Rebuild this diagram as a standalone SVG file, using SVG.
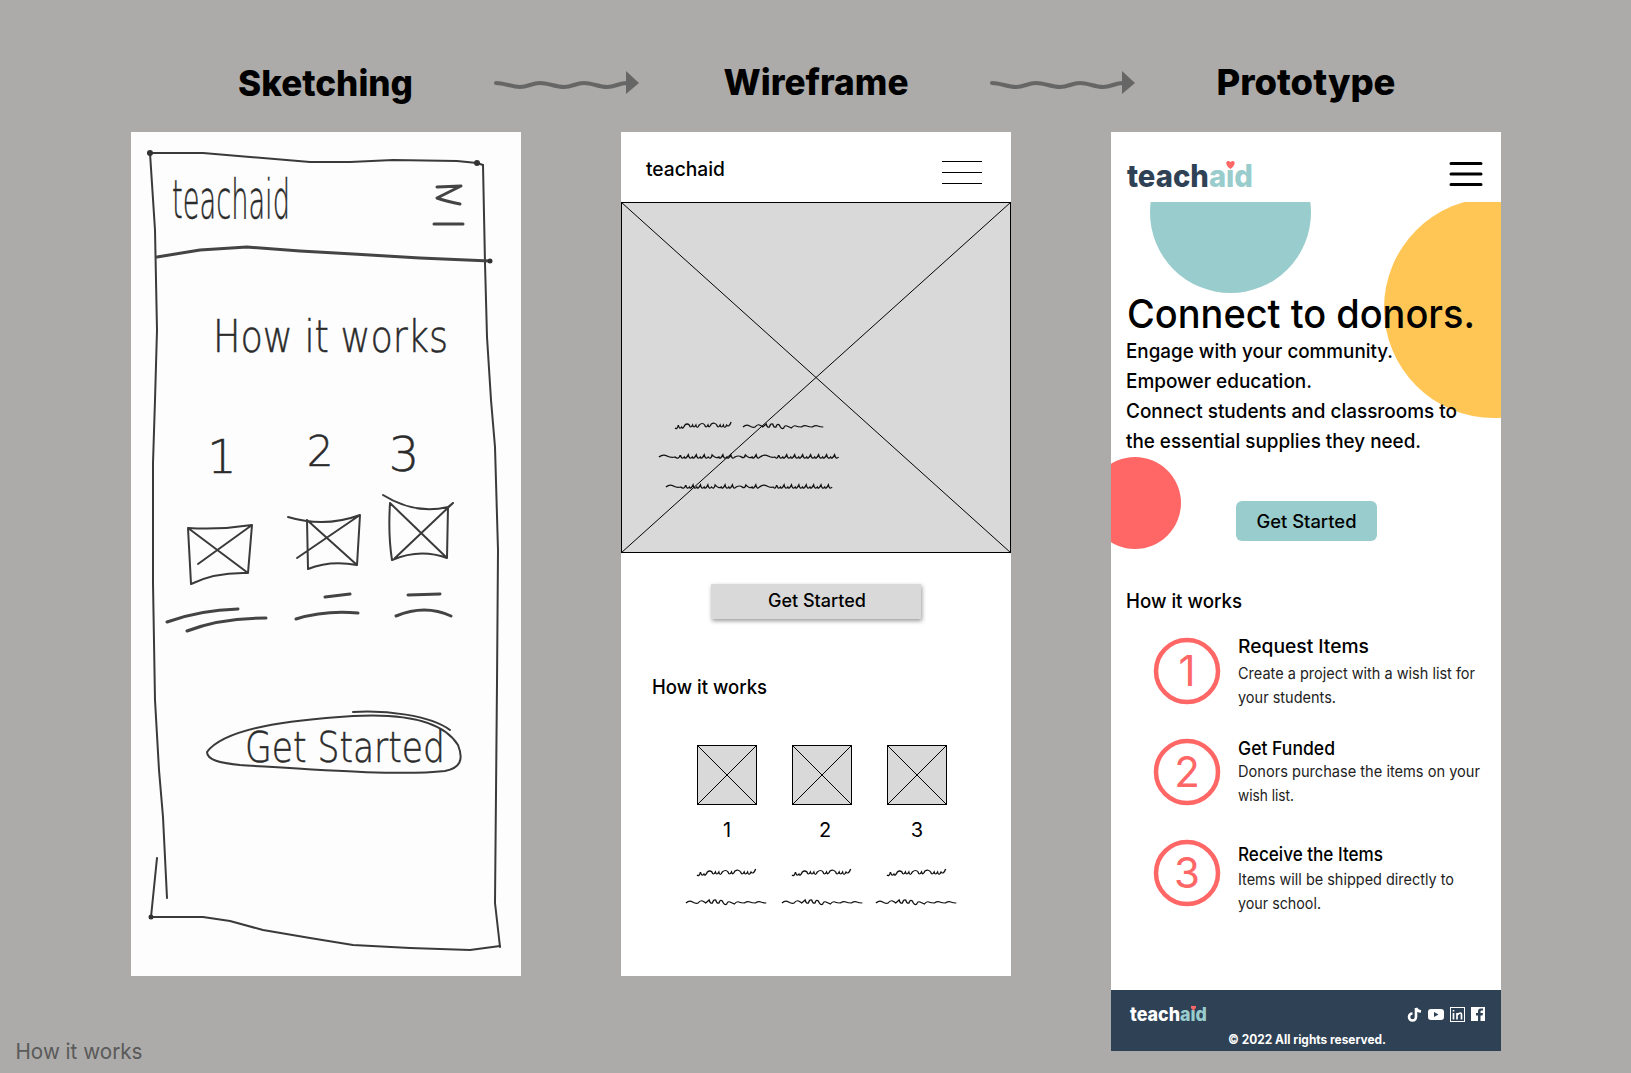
<svg xmlns="http://www.w3.org/2000/svg" xmlns:xlink="http://www.w3.org/1999/xlink" width="1631" height="1073" viewBox="0 0 1631 1073">
<style>
text{font-family:Inter,"Liberation Sans",sans-serif;fill:#000}
.title{font-size:36px;font-weight:800;text-anchor:middle}
.pen{fill:none;stroke:#3a3a3a;stroke-width:2;stroke-linecap:round;stroke-linejoin:round}
.pen2{fill:none;stroke:#444;stroke-width:3;stroke-linecap:round;stroke-linejoin:round}
.hand{font-family:"DejaVu Sans",sans-serif;font-weight:200;fill:#2b2b2b;stroke:#2b2b2b;stroke-width:.5px}
.wf{fill:#d9d9d9;stroke:#000;stroke-width:1}
.thin{stroke:#000;stroke-width:1;fill:none}
.sq{fill:none;stroke:#111;stroke-width:1.200}
.arrow{fill:none;stroke:#666;stroke-width:4;stroke-linecap:round}
.head{fill:#666}
.m{font-weight:500}
.h4{font-size:19px;font-weight:500}
.d{font-size:15.500px;fill:#222}
.ring{fill:#fff;stroke:#f66;stroke-width:4.500}
.num{font-size:42px;fill:#f66;text-anchor:middle}
.b{font-size:20px;font-weight:500}
</style>
<defs>
<clipPath id="heroClip"><rect x="1111" y="202" width="390" height="849"/></clipPath>
<path id="sc1" d="M0 6q2 2 3-3q1 5 3 2q1 3 3-2q2 -2 4 0q1 4 3 0q1 4 3 0q1 5 3 0q3-3 5 0q1 4 3 0q1 4 3-1q3-2 5 1q1 4 3 0q1 4 3 0q1 5 3 0q2 3 4-3"/>
<path id="sc2" d="M0 4q3-3 6-1t5 1q2-3 4-2t3 2q2-2 3-3q1 4 3 3q1-4 3-3q1 4 3 3q1-4 3-2q2 5 4 3q1-3 3-2t4 2q2-3 4-2t5 1q3-2 5-1t5 1q3-2 5-1t5 1"/>
<path id="sc3" d="M0 4q3-3 6-1t6 1q3 3 4-2q1 5 3 2q1 3 3-2q1 5 3 2q1 3 3-2q1 5 3 2q1 3 3-2q1 5 3 2q2 3 3-2q3 4 5 2q1 3 3-2q1 5 3 2q1 3 3-2q1 5 3 2q3-2 5 0q2 2 3-2q3 4 5 2q1 3 3-2q1 5 3 2q3-3 6-1t5 1q2 3 3-2q1 5 3 2q1 3 3-2q1 5 3 2q1 3 3-2q1 5 3 2q1 3 3-2q1 5 3 2q1 3 3-2q1 5 3 2q1 3 3-2q1 5 3 2q1 3 3-2q1 5 3 2q1 3 3-2q1 5 3 2"/>
<path id="heart" d="M0 4C-7-1-4-6 0-3C4-6 7-1 0 4Z" fill="#f66"/>
</defs>
<rect width="1631" height="1073" fill="#acaba9"/>

<g id="connectors">
<g id="arrow-1"><path class="arrow" d="M496 83C504 83 512 87 520 87C528 87 532 83 540 83C548 83 556 87 564 87C572 87 576 83 584 83C592 83 599 87 607 87C615 87 619 83 627 83"/><polygon class="head" points="626,71 639,83 626,94"/></g>
<g id="arrow-2" transform="translate(496 0)"><path class="arrow" d="M496 83C504 83 512 87 520 87C528 87 532 83 540 83C548 83 556 87 564 87C572 87 576 83 584 83C592 83 599 87 607 87C615 87 619 83 627 83"/><polygon class="head" points="626,71 639,83 626,94"/></g>
</g>

<g id="titles">
<text class="title" x="325.500" y="96" textLength="175" lengthAdjust="spacingAndGlyphs">Sketching</text>
<text class="title" x="816" y="95" textLength="185" lengthAdjust="spacingAndGlyphs">Wireframe</text>
<text class="title" x="1306" y="95" textLength="179" lengthAdjust="spacingAndGlyphs">Prototype</text>
</g>

<g id="sketch">
<rect x="131" y="132" width="390" height="844" fill="#fdfdfd"/>
<path class="pen" d="M148 153L203 153L250 157L310 162L350 162L393 160L457 161L477 163L483 165"/>
<path class="pen" d="M483 165L485 263L487 337L491 400L495 447L498 550L497 683L495 903L500 947"/>
<path class="pen" d="M150 153L155 230L157 330L155 400L153 463L153 583L155 700L159 770L163 817L167 898"/>
<path class="pen" d="M157 858L151 917"/>
<path class="pen" d="M150 917L203 917L230 921L263 930L310 938L353 945L410 948L470 950L500 946"/>
<path class="pen2" d="M157 257L200 250L247 247L300 251L353 254L420 258L490 261"/>
<circle cx="150" cy="153" r="3" fill="#333"/><circle cx="477" cy="163" r="3" fill="#333"/><circle cx="151" cy="917" r="2.500" fill="#333"/><circle cx="490" cy="261" r="2.500" fill="#333"/>
<text class="hand" x="172" y="218" font-size="54" textLength="118" lengthAdjust="spacingAndGlyphs">teachaid</text>
<path class="pen2" d="M437 187L461 186Q445 194 437 198Q445 201 460 204M434 224L463 224"/>
<text class="hand" x="213" y="352" font-size="44" textLength="235" lengthAdjust="spacingAndGlyphs">How it works</text>
<text class="hand" x="222" y="473" font-size="46" text-anchor="middle">1</text>
<text class="hand" x="320" y="466" font-size="42" text-anchor="middle">2</text>
<text class="hand" x="404" y="471" font-size="48" text-anchor="middle">3</text>
<path class="pen" d="M188 528Q220 530 252 525L248 573Q215 572 191 584ZM188 528L248 573M252 525L198 564"/>
<path class="pen" d="M288 517Q325 528 360 515L357 565Q330 560 308 569L307 520M307 520L357 565M360 515L297 558"/>
<path class="pen" d="M383 495Q415 515 448 507L453 503M390 503Q388 535 392 560Q420 548 447 558L448 507M390 503L447 558M453 503L395 558"/>
<path class="pen2" d="M167 622Q200 610 238 609M187 631Q220 618 266 618M325 597L350 594M296 619Q325 610 358 613M408 595L440 594M396 616Q425 604 451 616"/>
<path class="pen" d="M207 752C225 728 290 720 353 716C390 714 440 716 458 745C464 760 460 768 445 771C400 776 320 770 240 765C220 763 207 760 207 752ZM353 712C385 710 430 715 450 730"/>
<text class="hand" x="245" y="762" font-size="42" textLength="200" lengthAdjust="spacingAndGlyphs">Get Started</text>
</g>

<g id="wireframe">
<rect x="621" y="132" width="390" height="844" fill="#fff"/>
<text class="m" x="646" y="176" font-size="20" textLength="79" lengthAdjust="spacingAndGlyphs">teachaid</text>
<path class="thin" d="M942 161.500H982M942 172.500H982M942 183.500H982"/>
<rect class="wf" x="621.500" y="202.500" width="389" height="350"/>
<path class="thin" d="M621 202L1011 553M1011 202L621 553"/>
<use xlink:href="#sc1" class="sq" transform="translate(675 422) scale(1.100 1)"/>
<use xlink:href="#sc2" class="sq" transform="translate(743 423) scale(1.100 1)"/>
<use xlink:href="#sc3" class="sq" transform="translate(659 453) scale(1.330 1)"/>
<use xlink:href="#sc3" class="sq" transform="translate(666 483) scale(1.230 1)"/>
<rect x="711" y="584" width="210" height="35" fill="#d9d9d9" style="filter:drop-shadow(1px 2px 2px rgba(0,0,0,.4))"/>
<text class="m" x="817" y="607" font-size="18" text-anchor="middle" textLength="98" lengthAdjust="spacingAndGlyphs">Get Started</text>
<text class="m" x="652" y="694" font-size="20" textLength="115" lengthAdjust="spacingAndGlyphs">How it works</text>
<g id="wf-step-1"><rect class="wf" x="697.500" y="745.500" width="59" height="59"/><path class="thin" d="M697 745L757 805M757 745L697 805"/><text x="727" y="837" font-size="20" text-anchor="middle">1</text><use xlink:href="#sc1" class="sq" transform="translate(697 869) scale(1.150 1)"/><use xlink:href="#sc2" class="sq" transform="translate(686 899) scale(1.100 1)"/></g>
<g id="wf-step-2"><rect class="wf" x="792.500" y="745.500" width="59" height="59"/><path class="thin" d="M792 745L852 805M852 745L792 805"/><text x="825" y="837" font-size="20" text-anchor="middle">2</text><use xlink:href="#sc1" class="sq" transform="translate(792 869) scale(1.150 1)"/><use xlink:href="#sc2" class="sq" transform="translate(782 899) scale(1.100 1)"/></g>
<g id="wf-step-3"><rect class="wf" x="887.500" y="745.500" width="59" height="59"/><path class="thin" d="M887 745L947 805M947 745L887 805"/><text x="917" y="837" font-size="20" text-anchor="middle">3</text><use xlink:href="#sc1" class="sq" transform="translate(887 869) scale(1.150 1)"/><use xlink:href="#sc2" class="sq" transform="translate(876 899) scale(1.100 1)"/></g>
</g>

<g id="prototype">
<rect x="1111" y="132" width="390" height="919" fill="#fff"/>
<g clip-path="url(#heroClip)">
<circle cx="1230.500" cy="212.500" r="80.500" fill="#9cc"/>
<circle cx="1494" cy="308" r="110" fill="#ffc655"/>
<circle cx="1135" cy="503" r="46" fill="#f66"/>
</g>
<g id="proto-logo">
<text x="1127" y="187" font-size="31" font-weight="800" textLength="126" lengthAdjust="spacingAndGlyphs"><tspan style="fill:#2f4155">teach</tspan><tspan style="fill:#9cc">aid</tspan></text>
<use xlink:href="#heart" transform="translate(1230.500 165)"/>
</g>
<path d="M1451 163.500H1481M1451 174H1481M1451 184.500H1481" fill="none" stroke="#000" stroke-width="3" stroke-linecap="round"/>
<text x="1127" y="328" font-size="40" font-weight="500" textLength="348" lengthAdjust="spacingAndGlyphs">Connect to donors.</text>
<text class="b" x="1126" y="358" textLength="267" lengthAdjust="spacingAndGlyphs">Engage with your community.</text>
<text class="b" x="1126" y="388" textLength="186" lengthAdjust="spacingAndGlyphs">Empower education.</text>
<text class="b" x="1126" y="418" textLength="331" lengthAdjust="spacingAndGlyphs">Connect students and classrooms to</text>
<text class="b" x="1126" y="448" textLength="295" lengthAdjust="spacingAndGlyphs">the essential supplies they need.</text>
<g id="proto-button"><rect x="1236" y="501" width="141" height="40" rx="6" fill="#9cc"/><text class="m" x="1306.500" y="528" font-size="18" text-anchor="middle" textLength="100" lengthAdjust="spacingAndGlyphs">Get Started</text></g>
<text class="m" x="1126" y="608" font-size="20" textLength="116" lengthAdjust="spacingAndGlyphs">How it works</text>
<g id="proto-step-1"><circle class="ring" cx="1187" cy="671" r="31"/><text class="num" x="1187" y="686">1</text>
<text class="h4" x="1238" y="653" textLength="131" lengthAdjust="spacingAndGlyphs">Request Items</text>
<text class="d" x="1238" y="679" textLength="237" lengthAdjust="spacingAndGlyphs">Create a project with a wish list for</text>
<text class="d" x="1238" y="703" textLength="98" lengthAdjust="spacingAndGlyphs">your students.</text></g>
<g id="proto-step-2"><circle class="ring" cx="1187" cy="772" r="31"/><text class="num" x="1187" y="787">2</text>
<text class="h4" x="1238" y="755" textLength="97" lengthAdjust="spacingAndGlyphs">Get Funded</text>
<text class="d" x="1238" y="777" textLength="242" lengthAdjust="spacingAndGlyphs">Donors purchase the items on your</text>
<text class="d" x="1238" y="801" textLength="56" lengthAdjust="spacingAndGlyphs">wish list.</text></g>
<g id="proto-step-3"><circle class="ring" cx="1187" cy="873" r="31"/><text class="num" x="1187" y="888">3</text>
<text class="h4" x="1238" y="861" textLength="145" lengthAdjust="spacingAndGlyphs">Receive the Items</text>
<text class="d" x="1238" y="885" textLength="216" lengthAdjust="spacingAndGlyphs">Items will be shipped directly to</text>
<text class="d" x="1238" y="909" textLength="83" lengthAdjust="spacingAndGlyphs">your school.</text></g>
<g id="proto-footer">
<rect x="1111" y="990" width="390" height="61" fill="#2f4155"/>
<text x="1130" y="1021" font-size="19" font-weight="800" textLength="77" lengthAdjust="spacingAndGlyphs"><tspan style="fill:#fff">teach</tspan><tspan style="fill:#9cc">aid</tspan></text>
<use xlink:href="#heart" transform="translate(1193.500 1008) scale(.6)"/>
<text x="1228" y="1044" font-size="12.500" font-weight="700" style="fill:#fff" textLength="158" lengthAdjust="spacingAndGlyphs">© 2022 All rights reserved.</text>
<path d="M1416 1008V1017A3.500 3.500 0 1 1 1412.500 1013.500M1416 1008Q1417 1011 1421 1011.500" fill="none" stroke="#fff" stroke-width="2.600"/>
<rect x="1428" y="1009" width="16" height="11" rx="3" fill="#fff"/><polygon points="1434,1012 1434,1017 1438.500,1014.500" fill="#2f4155"/>
<rect x="1450.500" y="1007.500" width="14" height="14" fill="none" stroke="#fff"/><path d="M1453.500 1013V1019.500M1457 1013V1019.500M1457 1015Q1461.500 1011 1461.500 1015V1019.500M1453.500 1010V1011.500" fill="none" stroke="#fff" stroke-width="1.700"/>
<path d="M1471 1007H1485V1021H1480.500V1015.500H1482.500L1483 1013H1480.500V1011.500Q1480.500 1010.500 1482 1010.500H1483V1008.500H1480.500Q1478 1008.500 1478 1011.500V1013H1476V1015.500H1478V1021H1471Z" fill="#fff"/>
</g>
</g>

<text id="caption" x="15.500" y="1059" font-size="22" style="fill:#5a5a5a" textLength="127" lengthAdjust="spacingAndGlyphs">How it works</text>
</svg>
